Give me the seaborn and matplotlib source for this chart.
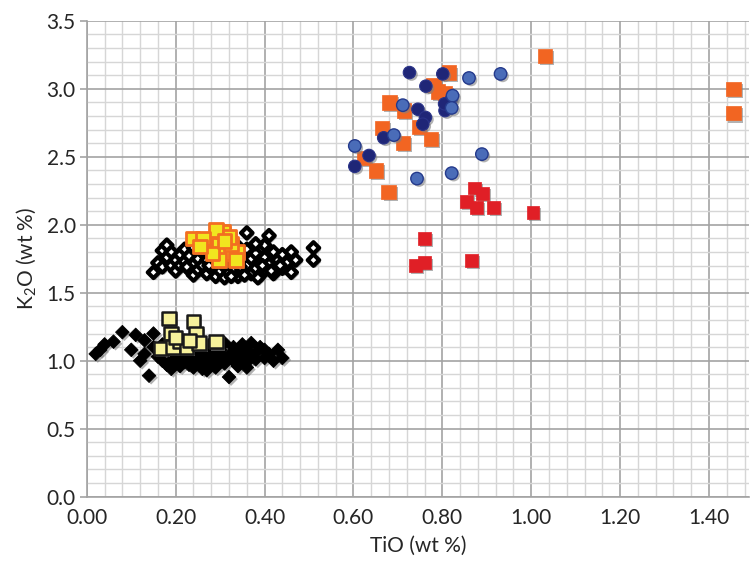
import numpy as np
import pandas as pd
import matplotlib
matplotlib.use("Agg")
import matplotlib.pyplot as plt
import matplotlib.patheffects as pe
from matplotlib.ticker import MultipleLocator, FormatStrFormatter
import seaborn as sns

### Data ###
black_x = [0.02, 0.03, 0.04, 0.06, 0.08, 0.10, 0.11, 0.13, 0.13, 0.14, 0.15, 0.15, 0.16, 0.17,
           0.17, 0.18, 0.19, 0.19, 0.20, 0.20, 0.21, 0.21, 0.22, 0.22, 0.23, 0.23, 0.24, 0.24,
           0.25, 0.25, 0.26, 0.26, 0.27, 0.27, 0.28, 0.28, 0.29, 0.29, 0.30, 0.30, 0.31, 0.31,
           0.32, 0.32, 0.33, 0.33, 0.34, 0.34, 0.35, 0.35, 0.36, 0.36, 0.37, 0.37, 0.38, 0.38,
           0.39, 0.40, 0.41, 0.42, 0.43, 0.44, 0.18, 0.21, 0.23, 0.26, 0.28, 0.24, 0.20, 0.16,
           0.12, 0.27, 0.29, 0.31, 0.19, 0.40, 0.36]
black_y = [1.05, 1.08, 1.12, 1.14, 1.21, 1.08, 1.19, 1.15, 1.05, 0.89, 1.20, 1.10, 1.03, 1.00,
           1.12, 0.97, 1.06, 1.00, 1.09, 0.98, 1.02, 0.96, 1.05, 0.99, 1.08, 0.97, 1.01, 0.95,
           1.04, 1.10, 0.98, 0.94, 1.02, 1.07, 0.97, 1.05, 1.00, 0.95, 1.03, 1.08, 0.98, 1.13,
           0.88, 1.04, 1.00, 1.10, 0.96, 1.06, 1.02, 1.12, 0.99, 1.07, 1.04, 1.13, 1.01, 1.06,
           1.10, 1.02, 1.05, 1.00, 1.08, 1.02, 1.13, 1.10, 1.14, 1.12, 1.13, 1.03, 1.04, 1.08,
           1.00, 0.93, 1.11, 1.02, 0.94, 1.08, 0.95]

open_x = [0.15, 0.16, 0.17, 0.17, 0.18, 0.19, 0.19, 0.20, 0.20, 0.21, 0.21, 0.22, 0.22, 0.23,
          0.23, 0.24, 0.24, 0.25, 0.25, 0.26, 0.26, 0.27, 0.27, 0.28, 0.28, 0.29, 0.29, 0.30,
          0.30, 0.31, 0.31, 0.32, 0.32, 0.33, 0.33, 0.34, 0.34, 0.35, 0.35, 0.36, 0.36, 0.36,
          0.37, 0.37, 0.38, 0.38, 0.39, 0.39, 0.40, 0.40, 0.40, 0.41, 0.41, 0.42, 0.42, 0.43,
          0.44, 0.44, 0.45, 0.46, 0.46, 0.47, 0.51, 0.51, 0.38, 0.34, 0.30, 0.26, 0.24, 0.18,
          0.325, 0.355, 0.385, 0.415, 0.435, 0.275, 0.305, 0.225, 0.395, 0.345]
open_y = [1.65, 1.72, 1.81, 1.69, 1.76, 1.70, 1.80, 1.74, 1.66, 1.78, 1.70, 1.82, 1.73, 1.67,
          1.77, 1.71, 1.63, 1.75, 1.67, 1.80, 1.70, 1.64, 1.74, 1.68, 1.78, 1.62, 1.72, 1.66,
          1.76, 1.70, 1.61, 1.74, 1.65, 1.80, 1.68, 1.62, 1.73, 1.77, 1.66, 1.70, 1.82, 1.94,
          1.64, 1.75, 1.68, 1.79, 1.72, 1.63, 1.85, 1.76, 1.67, 1.92, 1.71, 1.80, 1.64, 1.74,
          1.68, 1.78, 1.72, 1.65, 1.80, 1.74, 1.83, 1.74, 1.86, 1.84, 1.85, 1.88, 1.83, 1.85,
          1.62, 1.63, 1.61, 1.66, 1.70, 1.70, 1.71, 1.69, 1.70, 1.69]

pale_x = [0.185, 0.24, 0.19, 0.246, 0.167, 0.194, 0.209, 0.224, 0.253, 0.291, 0.231, 0.20]
pale_y = [1.31, 1.29, 1.20, 1.20, 1.09, 1.10, 1.14, 1.10, 1.13, 1.14, 1.15, 1.17]

gold_x = [0.238, 0.272, 0.298, 0.306, 0.291, 0.313, 0.339, 0.336, 0.298, 0.324, 0.283, 0.261,
          0.321, 0.255, 0.310]
gold_y = [1.90, 1.86, 1.85, 1.95, 1.96, 1.79, 1.80, 1.74, 1.74, 1.86, 1.79, 1.90,
          1.91, 1.84, 1.88]

orange_x = [1.031, 0.815, 0.780, 0.806, 0.681, 0.713, 0.664, 0.747, 0.711, 0.775, 0.623, 0.650,
            0.679, 1.455, 1.455, 0.790]
orange_y = [3.24, 3.12, 3.03, 2.97, 2.90, 2.84, 2.71, 2.72, 2.60, 2.63, 2.49, 2.40,
            2.24, 3.00, 2.82, 2.98]

navy_x = [0.726, 0.801, 0.763, 0.745, 0.762, 0.756, 0.668, 0.635, 0.603, 0.806, 0.820, 0.805]
navy_y = [3.12, 3.11, 3.02, 2.85, 2.79, 2.74, 2.64, 2.51, 2.43, 2.84, 2.92, 2.89]

blue_x = [0.931, 0.860, 0.711, 0.691, 0.603, 0.823, 0.821, 0.889, 0.821, 0.743]
blue_y = [3.11, 3.08, 2.88, 2.66, 2.58, 2.95, 2.86, 2.52, 2.38, 2.34]

red_x = [0.872, 0.891, 0.855, 0.876, 0.916, 1.004, 0.760, 0.760, 0.739, 0.865]
red_y = [2.27, 2.23, 2.17, 2.13, 2.13, 2.09, 1.90, 1.72, 1.70, 1.74]

x_ticks = [0.0, 0.2, 0.4, 0.6, 0.8, 1.0, 1.2, 1.4]
y_ticks = [0.0, 0.5, 1.0, 1.5, 2.0, 2.5, 3.0, 3.5]

sns.set_style("white")
plt.rcParams["font.family"] = ["Lato", "DejaVu Sans"]
plt.rcParams["mathtext.fontset"] = "custom"
plt.rcParams["mathtext.rm"] = "Lato"
plt.rcParams["mathtext.it"] = "Lato:italic"

shadow = [pe.SimplePatchShadow(offset=(1.5, -1.5), shadow_rgbFace="#808080", alpha=0.6), pe.Normal()]

fig = plt.figure(figsize=(7.55, 5.65), dpi=100)
ax = fig.add_axes([0.115, 0.121, 0.877, 0.842])

series = [
    (black_x, black_y, dict(marker="D", s=48, color="black", edgecolor="black", linewidth=0.6)),
    (open_x, open_y, dict(marker="D", s=34, color="white", edgecolor="black", linewidth=3.0)),
    (pale_x, pale_y, dict(marker="s", s=95, color="#f7f29c", edgecolor="#1a1a1a", linewidth=1.8)),
    (gold_x, gold_y, dict(marker="s", s=95, color="#f1e51f", edgecolor="#f36f21", linewidth=2.0)),
    (orange_x, orange_y, dict(marker="s", s=105, color="#f26522", edgecolor="#f26522", linewidth=0.5)),
    (navy_x, navy_y, dict(marker="o", s=80, color="#1f2677", edgecolor="#2a3388", linewidth=0.8)),
    (blue_x, blue_y, dict(marker="o", s=80, color="#4a6cb8", edgecolor="#243a8c", linewidth=1.0)),
    (red_x, red_y, dict(marker="s", s=85, color="#e01f26", edgecolor="#e01f26", linewidth=0.5)),
]

for xs, ys, kw in series:
    df = pd.DataFrame({"x": xs, "y": ys})
    sns.scatterplot(data=df, x="x", y="y", ax=ax, path_effects=shadow, zorder=3, **kw)

ax.set_xlim(0, 1.49)
ax.set_ylim(0, 3.5)
ax.set_xticks(x_ticks)
ax.set_yticks(y_ticks)
ax.xaxis.set_minor_locator(MultipleLocator(0.04))
ax.yaxis.set_minor_locator(MultipleLocator(0.1))
ax.xaxis.set_major_formatter(FormatStrFormatter("%.2f"))
ax.yaxis.set_major_formatter(FormatStrFormatter("%.1f"))

ax.set_axisbelow(True)
ax.grid(which="minor", color="#d6d6d6", linewidth=1.0)
ax.grid(which="major", color="#a3a3a3", linewidth=1.2)

for side in ["top", "right"]:
    ax.spines[side].set_visible(False)
for side in ["left", "bottom"]:
    ax.spines[side].set_color("#a3a3a3")
    ax.spines[side].set_linewidth(1.2)

ax.tick_params(which="major", length=5, width=1.2, color="#a3a3a3", labelsize=15, pad=3,
               left=True, bottom=False)
ax.tick_params(which="minor", length=0)

ax.set_xlabel("TiO (wt %)", fontsize=15, labelpad=6)
ax.set_ylabel("K$_2$O (wt %)", fontsize=15, labelpad=6)

fig.savefig("out.png", dpi=100)
